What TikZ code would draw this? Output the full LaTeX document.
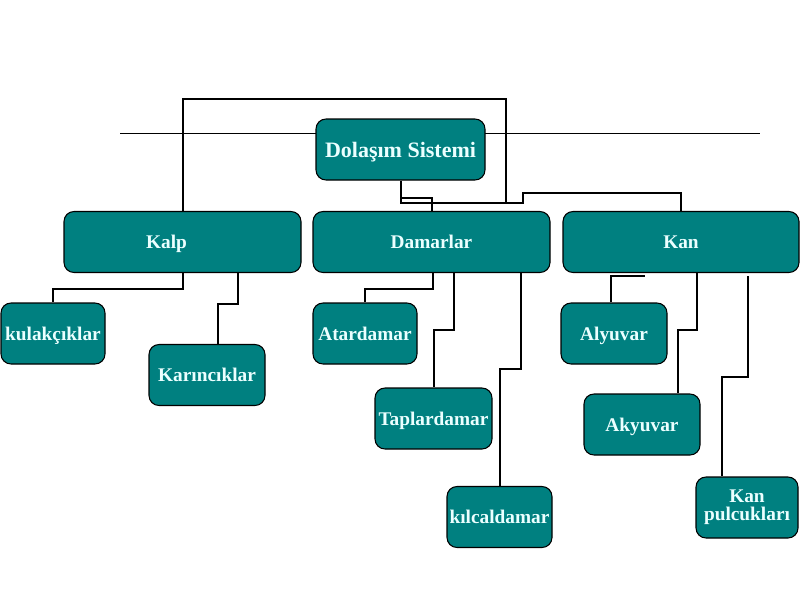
\documentclass[tikz,border=0pt]{standalone}
\usepackage{fontspec}
\setmainfont{Liberation Serif}
\usetikzlibrary{calc}
\definecolor{teal1}{RGB}{0,128,128}
\definecolor{pale}{RGB}{235,255,255}
\begin{document}
\begin{tikzpicture}[x=0.75pt, y=-0.75pt,
  box/.style={draw, line width=0.8pt, fill=teal1, rounded corners=7.5pt, text=pale,
    font=\bfseries\fontsize{14.5}{13.5}\selectfont, inner sep=0pt, align=center,
    minimum height=45.75pt, text depth=0pt},
  wd/.style={minimum width=0.75pt*#1},
  link/.style={line width=1.5pt}]
  \useasboundingbox (0,0) rectangle (800,600);
  \draw [line width=0.75pt] (120,133) -- (760,133);
  \node [box, wd=169, font=\bfseries\fontsize{16.5}{18}\selectfont] (1) at (400.5,149.5) {Dolaşım Sistemi};
  \node [box, wd=237] (2) at (182.5,242) {Kalp\hspace*{24pt}};
  \node [box, wd=237] (3) at (431.5,242) {Damarlar};
  \node [box, wd=236] (4) at (681,242) {Kan};
  \node [box, wd=104] (5) at (53,333.5) {kulakçıklar};
  \node [box, wd=116] (6) at (207,375) {Karıncıklar};
  \node [box, wd=104] (7) at (365,333.5) {Atardamar};
  \node [box, wd=117] (8) at (433.5,418.5) {Taplardamar};
  \node [box, wd=105] (9) at (499.5,517) {kılcaldamar};
  \node [box, wd=106] (10) at (614,333.5) {Alyuvar};
  \node [box, wd=116] (11) at (642,424.5) {Akyuvar};
  \node [box, wd=102, text depth={}] (12) at (747,507.5) {Kan\\pulcukları};
  \coordinate (a) at (645,276);
  \draw [link] (1.south) -- ++(0,22) -- ++(122,0) -- ++(0,-10) -| (4.north);
  \draw [link] ($(1.south)+(0,17)$) -| (3.north);
  \draw [link] (2.north) -- ++(0,-112) -| ($(1.south)+(105.5,22)$);
  \draw [link] (2.south) -- ++(0,16) -| (5.north);
  \draw [link] ($(2.south)+(55,0)$) -- ++(0,31) -| ($(6.north)+(11,0)$);
  \draw [link] ($(3.south)+(1.5,0)$) -- ++(0,16) -| (7.north);
  \draw [link] ($(3.south)+(22.5,0)$) -- ++(0,57) -| (8.north);
  \draw [link] ($(3.south)+(89.5,0)$) -- ++(0,96) -| (9.north);
  \draw [link] ($(10.north)+(-3,0)$) |- (a);
  \draw [link] ($(4.south)+(16,0)$) -- ++(0,57) -| ($(11.north)+(36,0)$);
  \draw [link] ($(4.south)+(67,3)$) -- ++(0,101) -| ($(12.north)+(-25,0)$);
\end{tikzpicture}
\end{document}
